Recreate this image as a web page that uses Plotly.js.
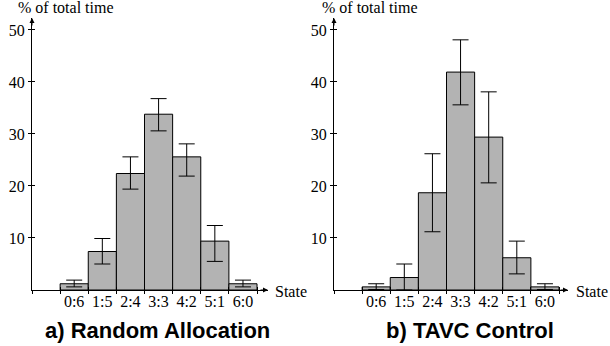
<!DOCTYPE html>
<html>
<head>
<meta charset="utf-8">
<script src="https://cdn.plot.ly/plotly-3.0.1.min.js"></script>
<style>html,body{margin:0;padding:0;background:#fff;}#chart{width:610px;height:346px;}</style>
</head>
<body>
<div id="chart"></div>
<script>
const states = ['0:6','1:5','2:4','3:3','4:2','5:1','6:0'];
const randomValues = [1.2, 7.4, 22.4, 33.8, 25.6, 9.4, 1.2];
const randomErrPlus = [0.7, 2.5, 3.2, 3.0, 2.5, 3.0, 0.7];
const randomErrMinus = [0.6, 2.4, 3.0, 3.2, 3.7, 3.9, 0.6];
const tavcValues = [0.6, 2.4, 18.7, 41.9, 29.4, 6.2, 0.6];
const tavcErrPlus = [0.6, 2.6, 7.5, 6.2, 8.7, 3.2, 0.6];
const tavcErrMinus = [0.5, 2.4, 7.5, 6.3, 8.8, 3.1, 0.5];
const yTicks = [10, 20, 30, 40, 50];
const panelTitles = ['a) Random Allocation', 'b) TAVC Control'];
const yLabel = '% of total time';
const xLabel = 'State';

const idx = states.map((s, i) => i);
const bounds = [-1.5].concat(states.map((s, i) => i - 0.5), [states.length - 0.5]);
const boundText = [''].concat(states, ['']);

function serifFont() { return {family: 'Liberation Serif', size: 16, color: '#000'}; }
function sansBold() { return {family: 'Liberation Sans', size: 22, color: '#000'}; }
const barStyle = () => ({color: '#b3b3b3', line: {color: '#000', width: 1}});
const errStyle = (p, m) => ({type: 'data', symmetric: false, array: p, arrayminus: m, color: '#000', thickness: 1, width: 8});

const yRange = [0, 52.3];
const xRangeL = [-1.5, 6.89];
const xRangeR = [-1.5, 6.82];
const domL = [32/610, 268/610];
const domR = [334/610, 568/610];
const yDom = [1 - 290/346, 1 - 18/346];

const traces = [
  {type: 'bar', x: idx, y: randomValues, width: 1, marker: barStyle(), error_y: errStyle(randomErrPlus, randomErrMinus), xaxis: 'x', yaxis: 'y', hoverinfo: 'none'},
  {type: 'bar', x: idx, y: tavcValues, width: 1, marker: barStyle(), error_y: errStyle(tavcErrPlus, tavcErrMinus), xaxis: 'x2', yaxis: 'y2', hoverinfo: 'none'},
  {type: 'scatter', x: [null], y: [null], xaxis: 'x3', yaxis: 'y3', hoverinfo: 'none'},
  {type: 'scatter', x: [null], y: [null], xaxis: 'x4', yaxis: 'y4', hoverinfo: 'none'}
];

function mainX(dom, rng, anchor) {
  return {domain: dom, range: rng, anchor: anchor, type: 'linear', showgrid: false, zeroline: false,
    showline: true, linecolor: '#000', linewidth: 1,
    tickmode: 'array', tickvals: bounds, ticktext: boundText, ticklabelshift: 14, ticklabelstandoff: -6,
    ticks: 'outside', ticklen: 3, tickcolor: '#000', tickwidth: 1, tickfont: serifFont(), fixedrange: true};
}
function overX(over, dom, rng, anchor) {
  return {overlaying: over, domain: dom, range: rng, anchor: anchor, type: 'linear', showgrid: false, zeroline: false,
    showline: false, tickmode: 'array', tickvals: bounds, showticklabels: false,
    ticks: 'inside', ticklen: 3, tickcolor: '#000', tickwidth: 1, fixedrange: true};
}
function mainY(anchor) {
  return {domain: yDom, range: yRange, anchor: anchor, showgrid: false, zeroline: false,
    showline: true, linecolor: '#000', linewidth: 1,
    tickmode: 'array', tickvals: yTicks, ticks: 'outside', ticklen: 3, tickcolor: '#000', tickwidth: 1,
    tickfont: serifFont(), fixedrange: true};
}
function overY(over, anchor) {
  return {overlaying: over, domain: yDom, range: yRange, anchor: anchor, showgrid: false, zeroline: false,
    showline: false, tickmode: 'array', tickvals: yTicks, showticklabels: false,
    ticks: 'inside', ticklen: 3, tickcolor: '#000', tickwidth: 1, fixedrange: true};
}

function arrow(xr, yr, x, y, ax, ay) {
  return {xref: xr, yref: yr, x: x, y: y, ax: ax, ay: ay, axref: 'pixel', ayref: 'pixel', text: '',
    showarrow: true, arrowhead: 2, arrowsize: 1, arrowwidth: 1, arrowcolor: '#000', standoff: 0};
}

const annotations = [
  {xref: 'paper', yref: 'paper', x: 16/610, y: 1 - 8/346, xanchor: 'left', yanchor: 'middle', text: yLabel, showarrow: false, font: serifFont()},
  {xref: 'paper', yref: 'paper', x: 320/610, y: 1 - 8/346, xanchor: 'left', yanchor: 'middle', text: yLabel, showarrow: false, font: serifFont()},
  {xref: 'paper', yref: 'paper', x: 273/610, y: 1 - 291/346, xanchor: 'left', yanchor: 'middle', text: xLabel, showarrow: false, font: serifFont()},
  {xref: 'paper', yref: 'paper', x: 574/610, y: 1 - 291/346, xanchor: 'left', yanchor: 'middle', text: xLabel, showarrow: false, font: serifFont()},
  {xref: 'paper', yref: 'paper', x: 157.5/610, y: 1 - 330/346, xanchor: 'center', yanchor: 'middle', text: '<b>' + panelTitles[0] + '</b>', showarrow: false, font: sansBold()},
  {xref: 'paper', yref: 'paper', x: 470/610, y: 1 - 330/346, xanchor: 'center', yanchor: 'middle', text: '<b>' + panelTitles[1] + '</b>', showarrow: false, font: sansBold()},
  arrow('x domain', 'y domain', 1, 0, -9, 0),
  arrow('x domain', 'y domain', 0, 1, 0, 9),
  arrow('x2 domain', 'y2 domain', 1, 0, -9, 0),
  arrow('x2 domain', 'y2 domain', 0, 1, 0, 9)
];

const layout = {
  width: 610, height: 346, margin: {l: 0, r: 0, t: 0, b: 0},
  font: {family: 'Liberation Serif', size: 16, color: '#000'},
  paper_bgcolor: '#fff', plot_bgcolor: 'rgba(0,0,0,0)', showlegend: false,
  xaxis: mainX(domL, xRangeL, 'y'),
  yaxis: mainY('x'),
  xaxis2: mainX(domR, xRangeR, 'y2'),
  yaxis2: mainY('x2'),
  xaxis3: overX('x', domL, xRangeL, 'y'),
  yaxis3: overY('y', 'x'),
  xaxis4: overX('x2', domR, xRangeR, 'y2'),
  yaxis4: overY('y2', 'x2'),
  annotations: annotations
};

Plotly.newPlot('chart', traces, layout, {staticPlot: true, displayModeBar: false});
</script>
</body>
</html>
